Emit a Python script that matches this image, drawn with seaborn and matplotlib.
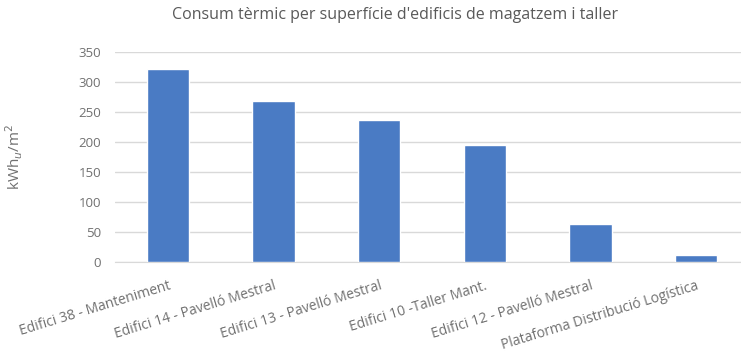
import matplotlib
matplotlib.use('Agg')
import pandas as pd
import numpy as np
from matplotlib import pyplot as plt
import seaborn as sns

# dades
edificis = ['Edifici 38 - Manteniment', 'Edifici 14 - Pavelló Mestral',
            'Edifici 13 - Pavelló Mestral', 'Edifici 10 -Taller Mant.',
            'Edifici 12 - Pavelló Mestral', 'Plataforma Distribució Logística']
consum = [321, 268, 237, 195, 63, 11]
yticks = [0, 50, 100, 150, 200, 250, 300, 350]

df = pd.DataFrame({'edifici': edificis, 'consum': consum})

sns.set_style('white')
plt.rcParams['font.family'] = ['Open Sans', 'DejaVu Sans']

fig = plt.figure(figsize=(7.41, 3.56), dpi=100)
# l'eix s'estén una mica més enllà de la vora dreta, com a l'original
ax = fig.add_axes([115 / 741, 0.265, 634 / 741, 0.589])

sns.barplot(data=df, x='edifici', y='consum', color='#4A7BC4', width=0.4,
            saturation=1, ax=ax, zorder=3)

ax.set_ylim(0, 350)
ax.set_yticks(yticks)
ax.set_yticklabels([str(v) for v in yticks], fontsize=9.5, color='#707070')
ax.yaxis.grid(True, color='#D9D9D9', linewidth=1, zorder=0)
ax.set_axisbelow(True)
ax.tick_params(axis='y', length=0, pad=10)
for s in ['top', 'right', 'left']:
    ax.spines[s].set_visible(False)
ax.spines['bottom'].set_color('#D9D9D9')

ax.set_xticks(range(len(edificis)))
ax.set_xticklabels(edificis, rotation=17, ha='right', rotation_mode='anchor',
                   fontsize=10, color='#707070')
ax.tick_params(axis='x', length=0, pad=12)
ax.set_xlabel('')
ax.set_ylabel(r'kWh$_u$/m$^2$', fontsize=11, color='#707070')
ax.yaxis.set_label_coords(-0.142, 0.5)

fig.text(395 / 741, 1 - 15 / 356,
         "Consum tèrmic per superfície d'edificis de magatzem i taller",
         ha='center', va='center', fontsize=11.5, color='#595959')

fig.savefig('out.png', dpi=100)
